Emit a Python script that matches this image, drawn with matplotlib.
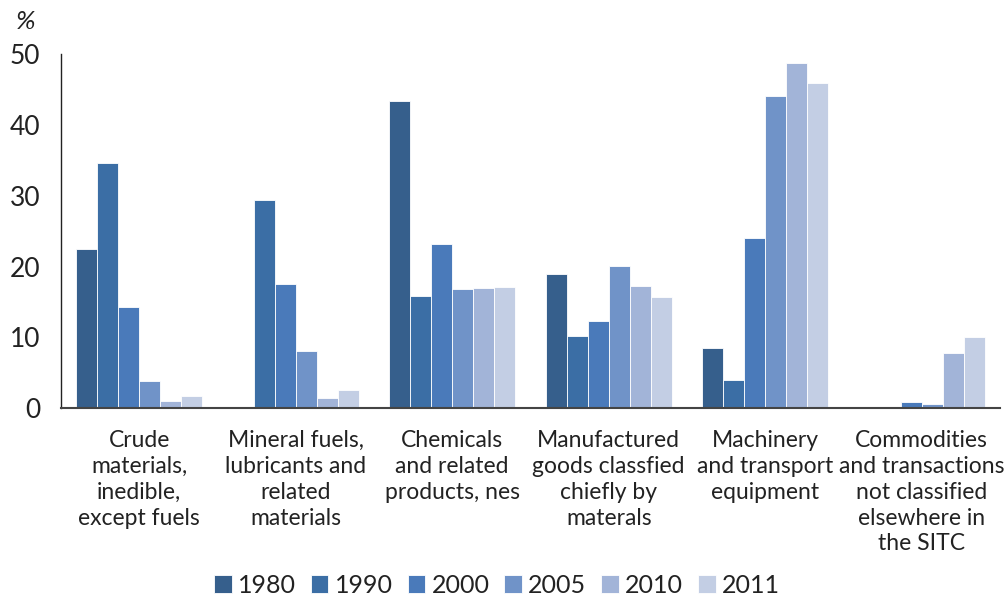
import matplotlib
matplotlib.use("Agg")
import matplotlib.pyplot as plt
import numpy as np

categories = ["Crude\nmaterials,\ninedible,\nexcept fuels",
              "Mineral fuels,\nlubricants and\nrelated\nmaterials",
              "Chemicals\nand related\nproducts, nes",
              "Manufactured\ngoods classfied\nchiefly by\nmaterals",
              "Machinery\nand transport\nequipment",
              "Commodities\nand transactions\nnot classified\nelsewhere in\nthe SITC"]
years = ["1980", "1990", "2000", "2005", "2010", "2011"]
v1980 = [22.5, 0.0, 43.4, 18.9, 8.5, 0.1]
v1990 = [34.6, 29.4, 15.8, 10.2, 4.0, 0.1]
v2000 = [14.3, 17.5, 23.2, 12.3, 24.0, 0.9]
v2005 = [3.8, 8.1, 16.8, 20.1, 44.1, 0.5]
v2010 = [1.0, 1.4, 17.0, 17.2, 48.7, 7.8]
v2011 = [1.7, 2.5, 17.1, 15.7, 45.9, 10.0]
series = [v1980, v1990, v2000, v2005, v2010, v2011]
colors = ["#365f8c", "#3b6ea5", "#4a7aba", "#7093c8", "#a2b4d8", "#c3cee4"]

plt.rcParams['font.family'] = ['Lato', 'DejaVu Sans']
fig = plt.figure(figsize=(10.06, 5.96), dpi=100)
ax = fig.add_axes([0.0606, 0.3154, 0.9334, 0.5936])

x = np.arange(len(categories))
w = 0.134
for i, (vals, c, lab) in enumerate(zip(series, colors, years)):
    ax.bar(x + (i - 2.5) * w, vals, w, color=c, edgecolor="white", linewidth=0.6, label=lab)

ax.set_xlim(-0.5, len(categories) - 0.5)
ax.set_ylim(0, 50)
ax.set_yticks([0, 10, 20, 30, 40, 50])
ax.tick_params(axis='y', length=0, labelsize=19, colors="#222222", pad=15)
ax.set_xticks(x)
ax.set_xticklabels(categories, fontsize=16.5, color="#222222", linespacing=1.28)
ax.tick_params(axis='x', length=0, pad=16)
for s in ["top", "right"]:
    ax.spines[s].set_visible(False)
ax.spines["left"].set_color("#222222")
ax.spines["bottom"].set_color("#444444")
ax.spines["bottom"].set_linewidth(1.5)
ax.spines["left"].set_linewidth(1.0)

fig.text(0.016, 0.952, "%", fontsize=19, style="italic", color="#222222")

leg = fig.legend(loc="center", bbox_to_anchor=(0.494, 0.018), ncol=6, frameon=False,
                 fontsize=18, handlelength=0.7, handleheight=0.7, handletextpad=0.25,
                 columnspacing=0.6)
for t in leg.get_texts():
    t.set_color("#222222")

fig.savefig("out.png", dpi=100)
